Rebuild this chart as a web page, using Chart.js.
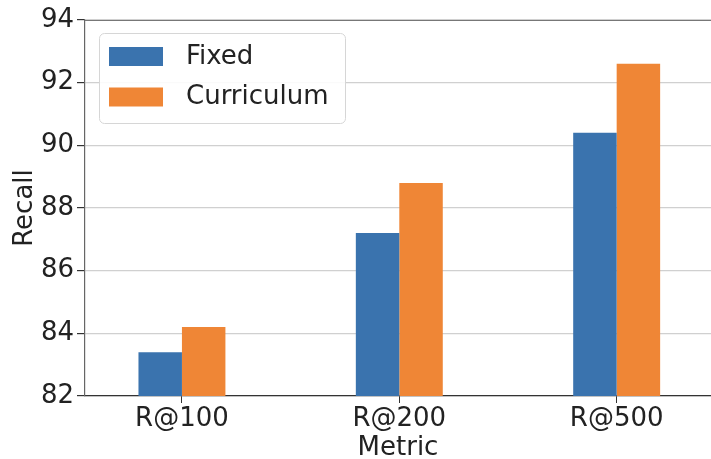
<!DOCTYPE html>
<html>
<head>
<meta charset="utf-8">
<script src="https://cdn.jsdelivr.net/npm/chart.js@4/dist/chart.umd.min.js"></script>
<style>
html, body { margin: 0; padding: 0; background: #fff; }
</style>
</head>
<body>
<canvas id="recallChart" width="711" height="459"></canvas>
<script>
// values
const metrics = ['R@100', 'R@200', 'R@500'];
const fixedRecall = [83.4, 87.2, 90.4];
const curriculumRecall = [84.2, 88.8, 92.6];
const yTicks = [82, 84, 86, 88, 90, 92, 94];

const blue = '#3a73ae';
const orange = '#ef8636';

Chart.defaults.font.family = 'DejaVu Sans';
Chart.defaults.color = '#222';

// top spine, matplotlib style
const topSpine = {
    id: 'topSpine',
    afterDraw(chart) {
        const {ctx, chartArea} = chart;
        ctx.save();
        ctx.strokeStyle = '#777';
        ctx.lineWidth = 1.2;
        ctx.beginPath();
        ctx.moveTo(chartArea.left, chartArea.top + 0.5);
        ctx.lineTo(chartArea.right, chartArea.top + 0.5);
        ctx.stroke();
        ctx.restore();
    }
};

// legend boxed inside the plot, upper left
const insideLegend = {
    id: 'insideLegend',
    afterDraw(chart) {
        const ctx = chart.ctx;
        ctx.save();
        ctx.fillStyle = 'rgba(255,255,255,0.9)';
        ctx.strokeStyle = '#d6d6d6';
        ctx.lineWidth = 1;
        ctx.beginPath();
        ctx.roundRect(99.5, 33.5, 246, 90, 5);
        ctx.fill();
        ctx.stroke();
        ctx.font = '26px "DejaVu Sans"';
        ctx.textBaseline = 'middle';
        chart.data.datasets.forEach((ds, i) => {
            const y = 47 + i * 40.5;
            ctx.fillStyle = ds.backgroundColor;
            ctx.fillRect(109, y, 54, 19);
            ctx.fillStyle = '#222';
            ctx.fillText(ds.label, 186, y + 10);
        });
        ctx.restore();
    }
};

const ctx = document.getElementById('recallChart').getContext('2d');
new Chart(ctx, {
    type: 'bar',
    data: {
        datasets: [{
            label: 'Fixed',
            data: fixedRecall.map((v, i) => ({x: i, y: v})),
            backgroundColor: blue,
            categoryPercentage: 0.4,
            barPercentage: 1.0
        }, {
            label: 'Curriculum',
            data: curriculumRecall.map((v, i) => ({x: i, y: v})),
            backgroundColor: orange,
            categoryPercentage: 0.4,
            barPercentage: 1.0
        }]
    },
    options: {
        responsive: false,
        animation: false,
        layout: {padding: {top: 20, right: 0, left: 0, bottom: 0}},
        plugins: {
            legend: {display: false},
            tooltip: {enabled: false}
        },
        scales: {
            x: {
                type: 'linear',
                offset: false,
                min: -0.446,
                max: 2.434,
                afterBuildTicks: axis => { axis.ticks = metrics.map((m, i) => ({value: i})); },
                afterFit: axis => { axis.height = 63; },
                ticks: {
                    callback: v => metrics[v],
                    font: {size: 26},
                    padding: 1,
                    maxRotation: 0,
                    autoSkip: false
                },
                grid: {
                    offset: false,
                    drawOnChartArea: false,
                    drawTicks: true,
                    tickLength: 7,
                    tickColor: '#333'
                },
                border: {display: true, color: '#333', width: 1.2},
                title: {
                    display: true,
                    text: 'Metric',
                    font: {size: 26, lineHeight: 0.8},
                    padding: {top: 0, bottom: 0}
                }
            },
            y: {
                min: 82,
                max: 94,
                z: 1,
                afterBuildTicks: axis => { axis.ticks = yTicks.map(v => ({value: v})); },
                afterFit: axis => { axis.width = 85; },
                ticks: {
                    font: {size: 26},
                    padding: 3
                },
                grid: {
                    color: 'rgba(170,170,170,0.55)',
                    lineWidth: 1.2,
                    tickLength: 8,
                    tickColor: '#333'
                },
                border: {display: true, color: '#666', width: 1.2},
                title: {
                    display: true,
                    text: 'Recall',
                    font: {size: 26, lineHeight: 1},
                    padding: {top: 12, bottom: 0}
                }
            }
        }
    },
    plugins: [topSpine, insideLegend]
});
</script>
</body>
</html>
